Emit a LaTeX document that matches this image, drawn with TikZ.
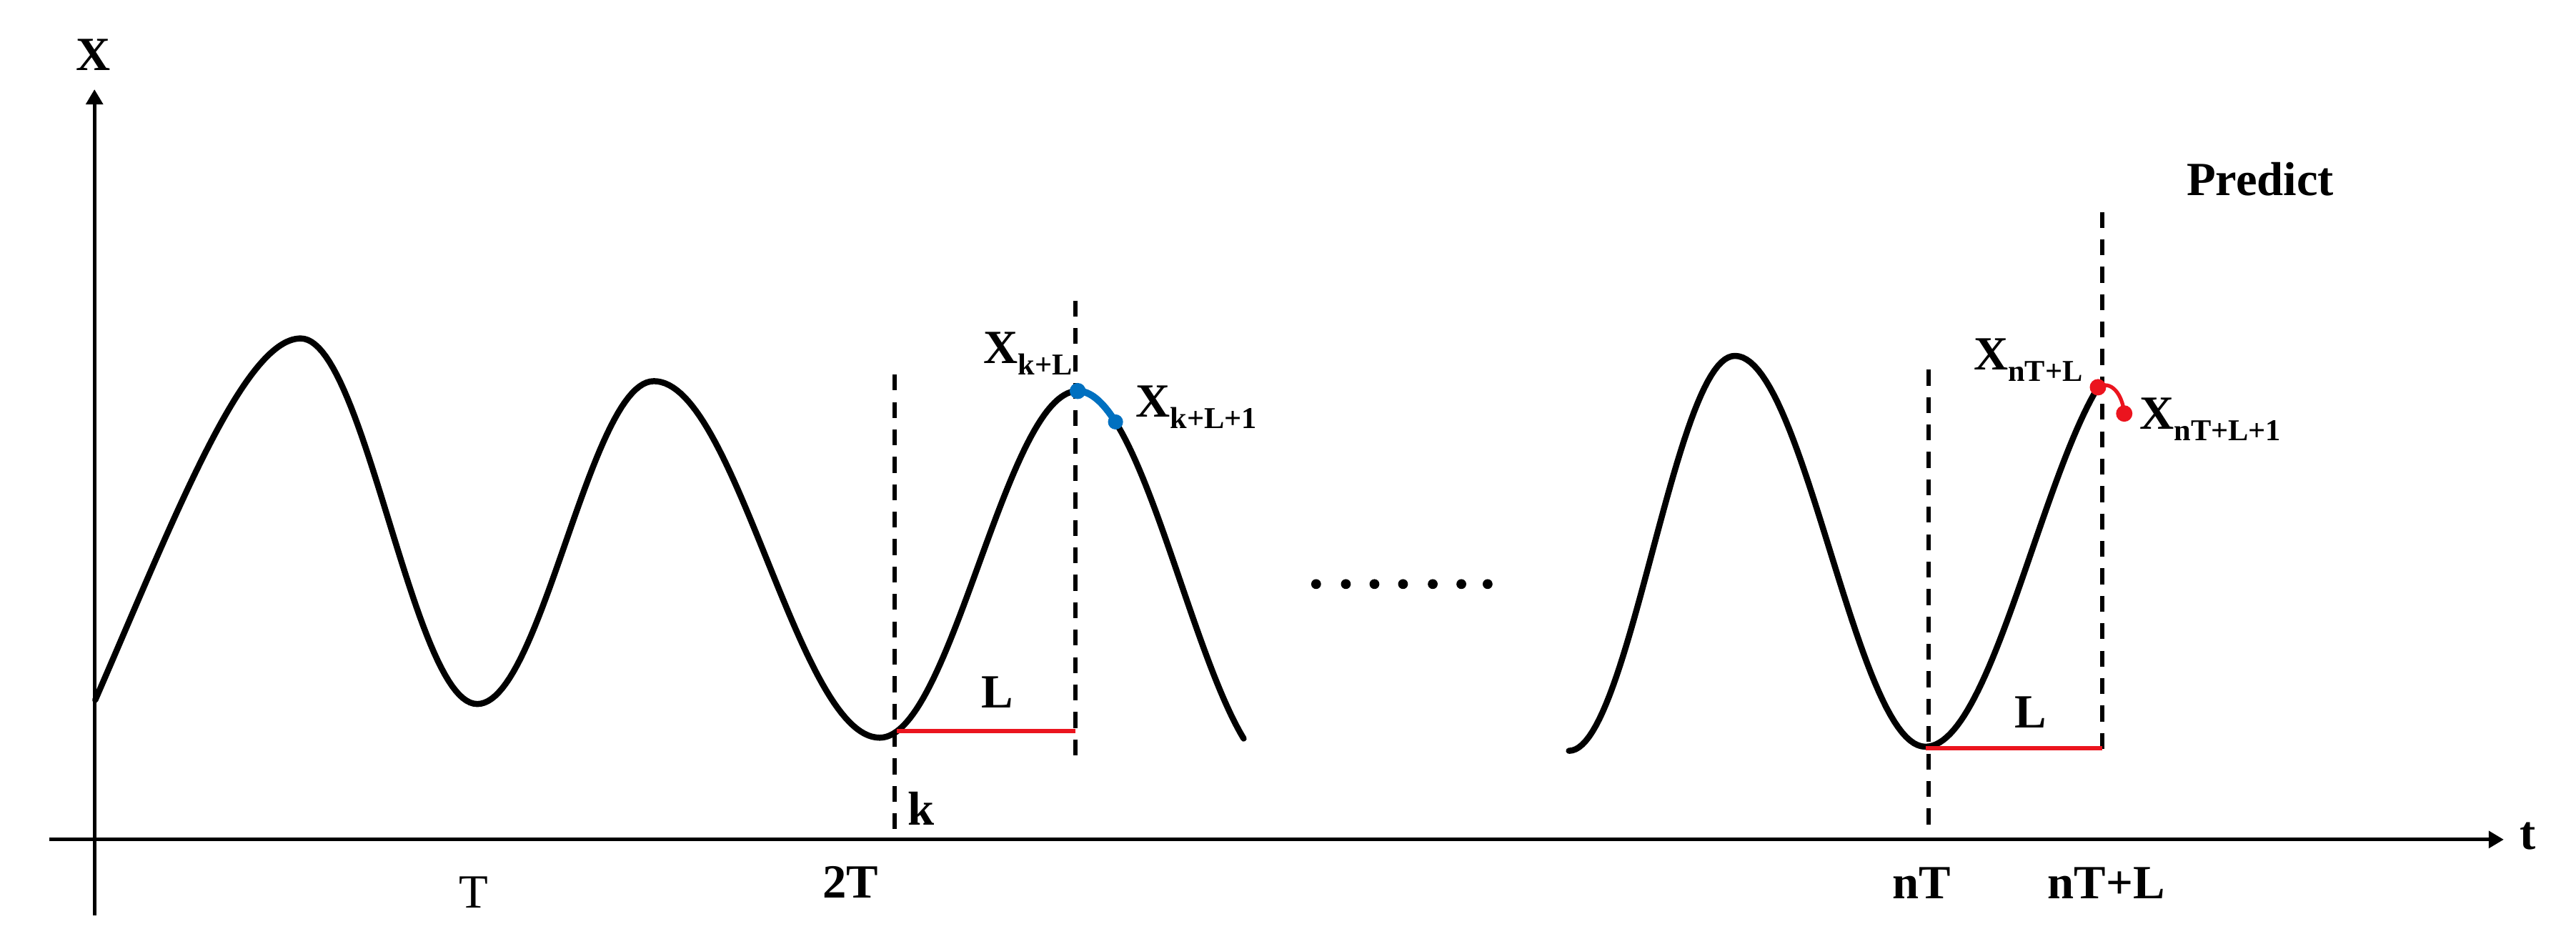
\documentclass[tikz,border=0pt]{standalone}
\usepackage{fontspec}
\setmainfont{Liberation Serif}
\usetikzlibrary{arrows.meta}
\definecolor{ptblue}{RGB}{0,112,192}
\definecolor{ptred}{RGB}{235,20,30}
\newcommand{\lowsub}[1]{{\fontsize{10.5pt}{12pt}\selectfont\raisebox{-4pt}{#1}}}
\begin{document}
\begin{tikzpicture}[x=0.02cm,y=-0.02cm,
  axisline/.style={line width=1.2pt,-{Triangle[length=5.2pt,width=5.8pt]}},
  wave/.style={line width=2.1pt,line join=round,line cap=round},
  guide/.style={line width=1.4pt,dash pattern=on 5.5pt off 4pt},
  spanline/.style={line width=1.5pt,ptred},
  lbl/.style={inner sep=0pt,font=\fontsize{16.5pt}{19pt}\selectfont\bfseries},
  rlbl/.style={inner sep=0pt,font=\fontsize{16.5pt}{19pt}\selectfont},
  dotmark/.style={fill=black}]
\useasboundingbox (0,0) rectangle (1568,571.5);

% axes
\coordinate (ybot) at (57.5,557);
\coordinate (ytop) at (57.5,54.4);
\coordinate (xleft) at (30,511);
\coordinate (xright) at (1524,511);
\draw[axisline] (ybot) -- (ytop);
\draw[axisline] (xleft) -- (xright);

% first wave segment
\draw[wave] (58,426) .. controls (105,318) and (148,206) .. (183,206)
  -- plot[domain=183:290.5,samples=50] (\x,{206+222.5*(1-cos((\x-183)/107.5*180))/2})
  -- plot[domain=290.5:398,samples=50] (\x,{428.5-196.5*(1-cos((\x-290.5)/107.5*180))/2})
  -- plot[domain=398:535.5,samples=60] (\x,{232+217*(1-cos((\x-398)/137.5*180))/2})
  -- plot[domain=535.5:656,samples=60] (\x,{449-211*(1-cos((\x-535.5)/120.5*180))/2})
  -- plot[domain=656:757,samples=50] (\x,{238+232*(1-cos((\x-656)/125*180))/2});

% second wave segment
\draw[wave] plot[domain=955:1056,samples=50] (\x,{457-240.4*(1-cos((\x-955)/101*180))/2})
  -- plot[domain=1056:1172,samples=50] (\x,{216.6+237.9*(1-cos((\x-1056)/116*180))/2})
  -- plot[domain=1172:1277,samples=50] (\x,{454.5-240*(1-cos((\x-1172)/130*180))/2});

% dashed guides
\coordinate (g1t) at (544.6,228); \coordinate (g1b) at (544.6,508);
\coordinate (g2t) at (654.5,183); \coordinate (g2b) at (654.5,461);
\coordinate (g3t) at (1174,225);  \coordinate (g3b) at (1174,506);
\coordinate (g4t) at (1279.5,129); \coordinate (g4b) at (1279.5,459);
\draw[guide] (g1t) -- (g1b);
\draw[guide] (g2t) -- (g2b);
\draw[guide] (g3t) -- (g3b);
\draw[guide] (g4t) -- (g4b);

% red spans
\coordinate (s1a) at (546,444.8); \coordinate (s1b) at (654.5,444.8);
\coordinate (s2a) at (1172,455.5); \coordinate (s2b) at (1279.5,455.5);
\draw[spanline] (s1a) -- (s1b);
\draw[spanline] (s2a) -- (s2b);

% blue known step
\draw[ptblue,line width=2.4pt] plot[domain=656:679,samples=20] (\x,{238+232*(1-cos((\x-656)/125*180))/2});
\coordinate (b1) at (656,238);
\coordinate (b2) at (679,256.8);
\fill[ptblue] (b1) circle[radius=0.098cm];
\fill[ptblue] (b2) circle[radius=0.092cm];

% red predicted step
\coordinate (r1) at (1277,235.7);
\coordinate (r2) at (1293,251.7);
\draw[ptred,line width=1.3pt] (r1) .. controls (1285,231) and (1292,240) .. (r2);
\fill[ptred] (r1) circle[radius=0.1cm];
\fill[ptred] (r2) circle[radius=0.1cm];

% ellipsis dots
\foreach \dx [count=\i] in {801.1,819.2,836.6,854,872.1,889.5,905.5}
  \fill[dotmark] (\dx,355.5) circle[radius=0.06cm] coordinate (dot\i);

% labels
\node[lbl,anchor=base] (labX) at (57,43) {X};
\node[lbl,anchor=base] (labt) at (1538.5,517) {t};
\node[rlbl,anchor=base] (labT) at (288.5,552.5) {T};
\node[lbl,anchor=base] (lab2T) at (517.6,546.5) {2T};
\node[lbl,anchor=base] (labk) at (560.5,502) {k};
\node[lbl,anchor=base] (labnT) at (1169.7,547) {nT};
\node[lbl,anchor=base] (labnTL) at (1282,547) {nT+L};
\node[lbl,anchor=base] (labL1) at (607,431) {L};
\node[lbl,anchor=base] (labL2) at (1236,443) {L};
\node[lbl,anchor=base west] (labPred) at (1330.6,119) {Predict};
\node[lbl,anchor=base west] (labXkL) at (598.5,221) {X\lowsub{k+L}};
\node[lbl,anchor=base west] (labXkL1) at (691,253.7) {X\lowsub{k+L+1}};
\node[lbl,anchor=base west] (labXnL) at (1201,225) {X\lowsub{nT+L}};
\node[lbl,anchor=base west] (labXnL1) at (1302,261) {X\lowsub{nT+L+1}};
\end{tikzpicture}
\end{document}
